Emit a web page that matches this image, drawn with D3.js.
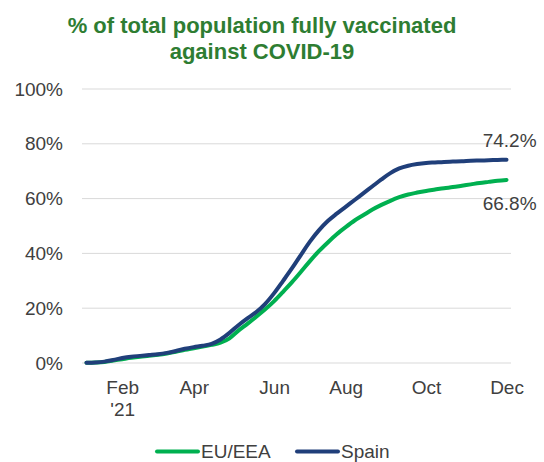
<!DOCTYPE html>
<html>
<head>
<meta charset="utf-8">
<script src="https://cdn.jsdelivr.net/npm/d3@7"></script>
<style>
  html, body { margin: 0; padding: 0; background: #fff; }
  svg { display: block; font-family: "Liberation Sans", Arial, sans-serif; }
</style>
</head>
<body>
<svg id="chart" width="544" height="462"></svg>
<script>
const weeks = ["2021-W01","2021-W02","2021-W03","2021-W04","2021-W05","2021-W06","2021-W07","2021-W08",
  "2021-W09","2021-W10","2021-W11","2021-W12","2021-W13","2021-W14","2021-W15","2021-W16",
  "2021-W17","2021-W18","2021-W19","2021-W20","2021-W21","2021-W22","2021-W23","2021-W24",
  "2021-W25","2021-W26","2021-W27","2021-W28","2021-W29","2021-W30","2021-W31","2021-W32",
  "2021-W33","2021-W34","2021-W35","2021-W36","2021-W37","2021-W38","2021-W39","2021-W40",
  "2021-W41","2021-W42","2021-W43","2021-W44","2021-W45","2021-W46","2021-W47","2021-W48"];

const euValues = [0.1,0.2,0.4,0.9,1.4,1.9,2.3,2.6,3.0,3.5,4.1,4.8,5.4,6.0,6.6,7.4,
  9.0,11.8,14.3,16.9,19.6,22.6,26.0,29.5,33.3,37.2,40.8,44.0,47.0,49.6,52.0,54.0,
  56.0,57.7,59.2,60.5,61.5,62.2,62.8,63.3,63.8,64.2,64.7,65.2,65.7,66.1,66.5,66.8];

const spainValues = [0.1,0.2,0.5,1.1,1.8,2.3,2.6,2.9,3.2,3.7,4.4,5.2,5.8,6.3,7.0,8.6,
  11.0,13.8,16.3,18.6,21.6,25.5,30.0,34.6,39.5,44.3,48.4,51.8,54.5,57.0,59.5,62.0,
  64.5,67.0,69.3,71.0,72.0,72.6,73.0,73.2,73.4,73.5,73.6,73.8,73.9,74.0,74.1,74.2];

const seriesNames = ["EU/EEA", "Spain"];
const yTicks = [0, 20, 40, 60, 80, 100];
const xTickWeeks = ["2021-W05","2021-W13","2021-W22","2021-W30","2021-W39","2021-W48"];
const xTickLabels = [["Feb","'21"],["Apr"],["Jun"],["Aug"],["Oct"],["Dec"]];
const titleLines = ["% of total population fully vaccinated", "against COVID-19"];

const colors = { "EU/EEA": "#00B050", "Spain": "#203F7A" };
const series = [
  { name: seriesNames[0], values: euValues },
  { name: seriesNames[1], values: spainValues }
];

const svg = d3.select("#chart");

const x = d3.scalePoint().domain(weeks).range([82, 511]).padding(0.5);
const y = d3.scaleLinear().domain([0, 100]).range([363, 89]);

// Title
const title = svg.append("text")
  .attr("text-anchor", "middle")
  .attr("font-size", 22)
  .attr("font-weight", "bold")
  .attr("fill", "#2E7D32");
titleLines.forEach((t, i) => {
  title.append("tspan").attr("x", 262).attr("y", 33 + i * 26).text(t);
});

// Gridlines
svg.append("g")
  .selectAll("line")
  .data(yTicks)
  .join("line")
  .attr("x1", 82).attr("x2", 511)
  .attr("y1", d => y(d)).attr("y2", d => y(d))
  .attr("stroke", "#D9D9D9").attr("stroke-width", 1);

// Y axis
const yAxis = svg.append("g")
  .attr("transform", "translate(82,0)")
  .call(d3.axisLeft(y).tickValues(yTicks).tickFormat(d => d + "%").tickSize(0).tickPadding(19));
yAxis.select(".domain").remove();
yAxis.selectAll("text")
  .attr("font-size", 19)
  .attr("font-family", "Liberation Sans, Arial, sans-serif")
  .attr("fill", "#404040");

// X axis
const xAxis = svg.append("g")
  .attr("transform", "translate(0,363)")
  .call(d3.axisBottom(x).tickValues(xTickWeeks).tickSize(0).tickFormat(""));
xAxis.select(".domain").remove();
xAxis.selectAll(".tick text").remove();
xAxis.selectAll(".tick").each(function(d, i) {
  const t = d3.select(this).append("text")
    .attr("text-anchor", "middle")
    .attr("font-size", 19)
    .attr("font-family", "Liberation Sans, Arial, sans-serif")
    .attr("fill", "#404040");
  xTickLabels[i].forEach((s, j) => {
    t.append("tspan").attr("x", 0).attr("y", 31 + j * 22).text(s);
  });
});

// Lines
const line = d3.line()
  .x((d, i) => x(weeks[i]))
  .y(d => y(d))
  .curve(d3.curveMonotoneX);

svg.append("g")
  .selectAll("path")
  .data(series)
  .join("path")
  .attr("d", d => line(d.values))
  .attr("fill", "none")
  .attr("stroke", d => colors[d.name])
  .attr("stroke-width", 4)
  .attr("stroke-linecap", "round")
  .attr("stroke-linejoin", "round");

// End labels
const last = weeks.length - 1;
const endLabels = [
  { v: spainValues[last], dy: -13 },
  { v: euValues[last], dy: 30 }
];
svg.append("g")
  .selectAll("text")
  .data(endLabels)
  .join("text")
  .attr("x", x(weeks[last]) + 30)
  .attr("y", d => y(d.v) + d.dy)
  .attr("text-anchor", "end")
  .attr("font-size", 19)
  .attr("fill", "#404040")
  .text(d => d.v.toFixed(1) + "%");

// Legend
const legendItems = [
  { name: seriesNames[0], x0: 157 },
  { name: seriesNames[1], x0: 297 }
];
const lg = svg.append("g");
legendItems.forEach(it => {
  lg.append("line")
    .attr("x1", it.x0).attr("x2", it.x0 + 41)
    .attr("y1", 451.5).attr("y2", 451.5)
    .attr("stroke", colors[it.name]).attr("stroke-width", 4)
    .attr("stroke-linecap", "round");
  lg.append("text")
    .attr("x", it.x0 + 44).attr("y", 458)
    .attr("font-size", 19)
    .attr("fill", "#404040")
    .text(it.name);
});
</script>
</body>
</html>
